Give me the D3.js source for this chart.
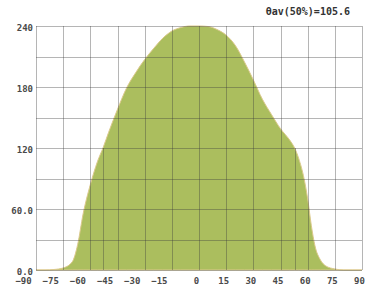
<!DOCTYPE html>
<html>
<head>
<meta charset="utf-8">
<script src="https://cdn.jsdelivr.net/npm/d3@7"></script>
<style>
  html, body { margin: 0; padding: 0; background: #fff; }
  svg { display: block; }
  .lbl { font-family: "DejaVu Sans Mono", monospace; font-weight: bold; fill: #4a4a4a; }
</style>
</head>
<body>
<svg id="chart" width="369" height="290"></svg>
<script>
// Data
const angles = [-90, -85, -80, -75, -70, -67, -64, -60, -56, -52.8, -50, -45, -40, -35, -30, -25, -20, -15, -10, -5,
                0, 5, 10, 15, 20, 25, 30, 35, 40, 45, 50, 52.8, 55, 58, 60, 62, 64, 67, 70, 75, 80, 85, 90]
const intensity = [0, 0, 0.5, 2, 8, 25, 55, 84, 107, 121, 135, 158, 179, 194, 207, 218, 228, 235, 238.5, 240,
                   240, 239.5, 236.5, 231, 221, 205, 187, 168, 153, 139, 128, 120, 110, 90, 70, 44, 24, 10, 4, 1, 0, 0, 0]
const xTicks = [-90, -75, -60, -45, -30, -15, 0, 15, 30, 45, 60, 75, 90]
const yGrid = [0, 30, 60, 90, 120, 150, 180, 210, 240]
const yTicks = [0, 60, 120, 180, 240]
const yTickLabels = ['0.0', '60.0', '120', '180', '240']
const halfAngles = [-52.8, 52.8]
const halfValue = 120
const title = 'θav(50%)=105.6'

const points = angles.map((a, i) => ({ a, v: intensity[i] }))

// Presentation
const svg = d3.select('#chart')
const margin = { top: 26, right: 7, bottom: 20, left: 36 }
const width = 369 - margin.left - margin.right
const height = 290 - margin.top - margin.bottom

const x = d3.scaleLinear().domain([-90, 90]).range([0, width])
const y = d3.scaleLinear().domain([0, 240]).range([height, 0])

const g = svg.append('g').attr('transform', `translate(${margin.left},${margin.top})`)

// Filled distribution
const area = d3.area()
    .x(d => x(d.a))
    .y0(y(0))
    .y1(d => y(d.v))
    .curve(d3.curveMonotoneX)

g.append('path')
    .datum(points)
    .attr('d', area)
    .style('fill', '#abbe5e')
    .style('stroke', '#dcc98c')
    .style('stroke-width', 1)

// Grid on top, translucent so it darkens over the fill
const gridStyle = sel => sel.style('stroke', '#3c3c3c').style('stroke-opacity', 0.38).style('stroke-width', 1)

g.append('g').selectAll('line.v')
    .data(xTicks)
    .join('line')
    .attr('x1', d => Math.round(x(d)) + 0.5).attr('x2', d => Math.round(x(d)) + 0.5)
    .attr('y1', 0).attr('y2', height)
    .call(gridStyle)

g.append('g').selectAll('line.h')
    .data(yGrid)
    .join('line')
    .attr('x1', 0).attr('x2', width)
    .attr('y1', d => Math.round(y(d)) + 0.5).attr('y2', d => Math.round(y(d)) + 0.5)
    .call(gridStyle)

// 50% markers
g.append('g').selectAll('line.half')
    .data(halfAngles)
    .join('line')
    .attr('x1', d => Math.round(x(d)) + 0.5).attr('x2', d => Math.round(x(d)) + 0.5)
    .attr('y1', y(halfValue)).attr('y2', height)
    .call(gridStyle)

// Axes labels
const xAxis = d3.axisBottom(x).tickValues(xTicks).tickSize(0).tickPadding(8)
g.append('g')
    .attr('transform', `translate(0,${height})`)
    .call(xAxis)
    .call(ax => ax.select('.domain').remove())
    .selectAll('text')
    .attr('class', 'lbl')
    .style('font-size', '9px')
    .attr('dx', d => d < 0 ? -13 : -3)

const yAxis = d3.axisLeft(y).tickValues(yTicks).tickSize(0).tickPadding(3)
    .tickFormat((d, i) => yTickLabels[i])
g.append('g')
    .call(yAxis)
    .call(ax => ax.select('.domain').remove())
    .selectAll('text')
    .attr('class', 'lbl')
    .style('font-size', '9px')
    .attr('dy', '0.45em')

svg.append('text')
    .attr('class', 'lbl')
    .attr('x', 350)
    .attr('y', 15)
    .attr('text-anchor', 'end')
    .style('font-size', '10px')
    .style('fill', '#333')
    .text(title)
</script>
</body>
</html>
